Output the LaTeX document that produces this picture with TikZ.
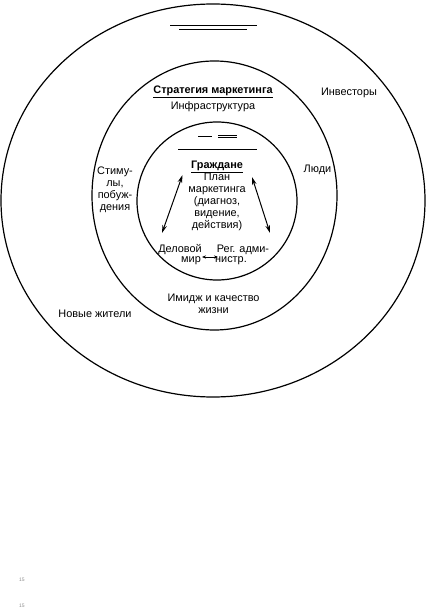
\documentclass[tikz,border=0pt]{standalone}
\usepackage{fontspec}
\setmainfont{Liberation Sans}
\usetikzlibrary{arrows.meta}
\begin{document}
\begin{tikzpicture}[x=1pt,y=-1pt,
  ring/.style={line width=1.2pt},
  lbl/.style={inner sep=0pt,align=center,font=\fontsize{10.9}{12}\selectfont},
  rule/.style={line width=0.7pt},
  dbl/.style={line width=1pt,{Stealth[length=8pt,width=4.5pt]}-{Stealth[length=8pt,width=4.5pt]}},
  small/.style={line width=0.7pt,{Stealth[length=4pt,width=3.2pt]}-{Stealth[length=4pt,width=3.2pt]}},
  pagemark/.style={inner sep=0pt,font=\fontsize{5}{6}\selectfont,text=black!45}]
\useasboundingbox (0,0) rectangle (426,612);
% rings
\draw[ring] (213,200.5) ellipse [x radius=212, y radius=196.5];
\draw[ring] (214.5,195.5) ellipse [x radius=122.5, y radius=134.5];
\draw[ring] (217,201) ellipse [x radius=80, y radius=79];
% stray rules
\draw[rule] (170,25.5) -- (257,25.5);
\draw[rule] (179,29) -- (247,29);
\draw[rule] (198,136) -- (212,136);
\draw[rule] (218,135.5) -- (237,135.5);
\draw[rule] (218,137.5) -- (237,137.5);
\draw[rule] (178,149) -- (257,149);
% outer labels
\node[lbl] (inv) at (349,93) {Инвесторы};
\node[lbl] (new) at (95,314) {Новые жители};
% middle labels
\node[lbl] (strat) at (213,92) {\textbf{\underline{Стратегия маркетинга}}};
\node[lbl] (infra) at (213,107) {Инфраструктура};
\node[lbl] (people) at (317.5,170) {Люди};
\node[lbl] (stim) at (115,190) {Стиму-\\лы,\\побуж-\\дения};
\node[lbl] (image) at (213.5,304) {Имидж и качество\\жизни};
% inner labels
\node[lbl] (cit) at (217,195.5) {\textbf{\underline{Граждане}}\\План\\маркетинга\\(диагноз,\\видение,\\действия)};
\node[lbl] (biz1) at (180,250) {Деловой};
\node[lbl] (biz2) at (191,261) {мир};
\node[lbl] (adm1) at (243,250) {Рег. адми-};
\node[lbl] (adm2) at (231,261) {нистр.};
% arrows
\coordinate (la) at (182.5,175);
\coordinate (lb) at (162,233);
\coordinate (ra) at (252,177);
\coordinate (rb) at (270,233);
\draw[dbl] (la) -- (lb);
\draw[dbl] (ra) -- (rb);
\coordinate (sa) at (202,257);
\coordinate (sb) at (218,257);
\draw[small] (sa) -- (sb);
% page marks
\node[pagemark] (m1) at (22,580) {15};
\node[pagemark] (m2) at (22,606) {15};
\end{tikzpicture}
\end{document}
